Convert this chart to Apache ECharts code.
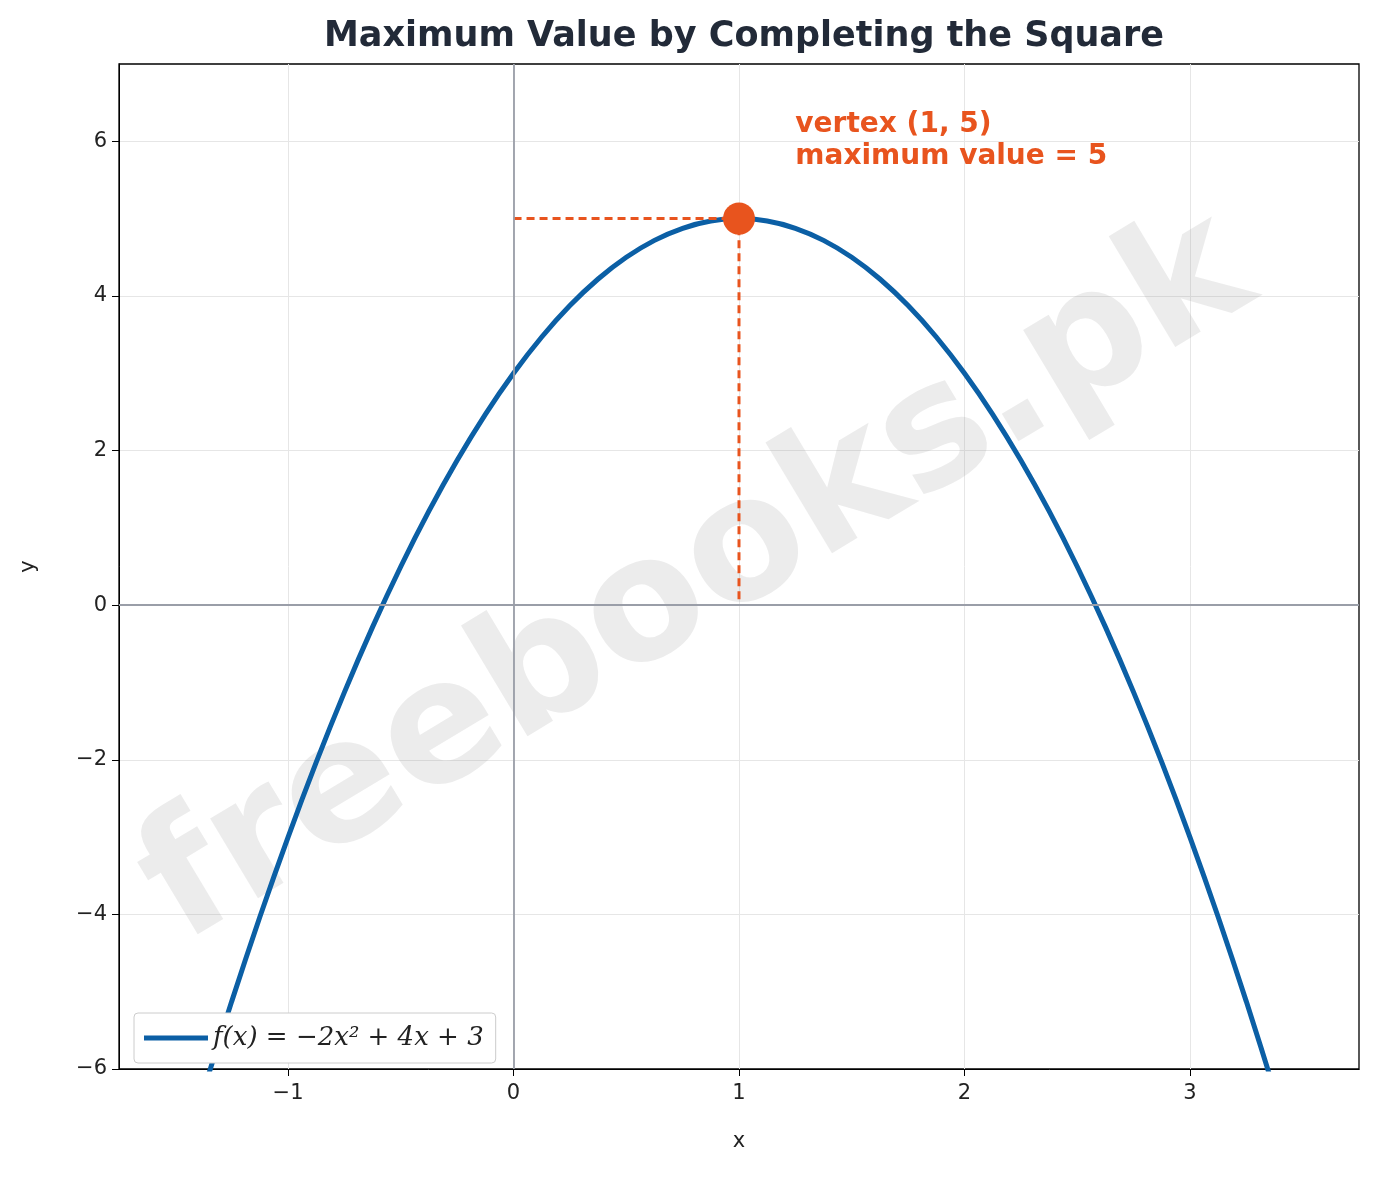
<!DOCTYPE html>
<html><head><meta charset="utf-8">
<script src="https://cdn.jsdelivr.net/npm/echarts@6/dist/echarts.min.js"></script>
<style>html,body{margin:0;padding:0;background:#fff}#c{width:1379px;height:1177px}</style>
</head><body><div id="c"></div>
<script>
const curveX = [-1.5,-1.375,-1.25,-1.125,-1,-0.875,-0.75,-0.625,-0.5,-0.375,-0.25,-0.125,0,0.125,0.25,0.375,0.5,0.625,0.75,0.875,1,1.125,1.25,1.375,1.5,1.625,1.75,1.875,2,2.125,2.25,2.375,2.5,2.625,2.75,2.875,3,3.125,3.25,3.375,3.5];
const curveY = [-7.5,-6.28125,-5.125,-4.03125,-3,-2.03125,-1.125,-0.28125,0.5,1.21875,1.875,2.46875,3,3.46875,3.875,4.21875,4.5,4.71875,4.875,4.96875,5,4.96875,4.875,4.71875,4.5,4.21875,3.875,3.46875,3,2.46875,1.875,1.21875,0.5,-0.28125,-1.125,-2.03125,-3,-4.03125,-5.125,-6.28125,-7.5];
const vertex = [1, 5];
const xTicks = [-1,0,1,2,3];
const yTicks = [-6,-4,-2,0,2,4,6];
const fmt = v => String(v).replace('-', '\u2212');
const chart = echarts.init(document.getElementById('c'));
const font = 'DejaVu Sans';
chart.setOption({
  animation:false,
  title:{text:'Maximum Value by Completing the Square',left:739,textAlign:'center',top:14,textStyle:{fontFamily:font,fontSize:35,fontWeight:'bold',color:'#222a38'}},
  grid:{left:119,right:20,top:64,bottom:108,show:true,borderColor:'#000',borderWidth:1.3,backgroundColor:'transparent'},
  xAxis:{type:'value',min:-1.75,max:3.75,name:'x',nameLocation:'middle',nameGap:62,
    nameTextStyle:{fontFamily:font,fontSize:21,color:'#222'},
    axisLine:{onZero:false,lineStyle:{color:'#000'}},
    axisTick:{show:true,length:7,lineStyle:{color:'#000'},customValues:xTicks},
    axisLabel:{fontFamily:font,fontSize:21,color:'#222',margin:14,customValues:xTicks,formatter:v=>fmt(v)},
    splitLine:{show:true,lineStyle:{color:'#e6e6e6'}}},
  yAxis:{type:'value',min:-6,max:7,name:'y',nameLocation:'middle',nameGap:80,
    nameTextStyle:{fontFamily:font,fontSize:21,color:'#222'},
    axisLine:{show:true,onZero:false,lineStyle:{color:'#000'}},
    axisTick:{show:true,length:7,lineStyle:{color:'#000'},customValues:yTicks},
    axisLabel:{fontFamily:font,fontSize:21,color:'#222',margin:12,customValues:yTicks,formatter:v=>fmt(v)},
    splitLine:{show:true,lineStyle:{color:'#e6e6e6'}}},
  legend:{left:134,bottom:114,orient:'vertical',itemWidth:64,itemHeight:5,itemGap:10,padding:[12,12,12,10],
    backgroundColor:'#fff',borderColor:'#ccc',borderWidth:1,borderRadius:4,
    textStyle:{fontFamily:'DejaVu Serif',fontSize:26,fontStyle:'italic',color:'#222'},
    data:[{name:'f(x) = \u22122x\u00b2 + 4x + 3',icon:'rect'}]},
  series:[
    {type:'line',name:'f(x) = \u22122x\u00b2 + 4x + 3',data:curveX.map((x,i)=>[x,curveY[i]]),smooth:0.3,showSymbol:false,
      lineStyle:{width:5,color:'#0b5fa5'},itemStyle:{color:'#0b5fa5'},clip:true,z:3,
      markLine:{silent:true,symbol:'none',label:{show:false},lineStyle:{color:'#9a9ea8',width:1.8,type:'solid'},
        data:[{xAxis:0},{yAxis:0}]}},
    {type:'line',data:[[0,vertex[1]],vertex,[vertex[0],0]],showSymbol:false,
      lineStyle:{width:3,type:[8,5],color:'#e8541e'},z:4},
    {type:'scatter',data:[vertex],symbolSize:32,itemStyle:{color:'#e8541e',opacity:1},z:5}
  ]
});
const p = chart.convertToPixel({gridIndex:0},[1.25,6.2]);
const w = chart.convertToPixel({gridIndex:0},[0.82,0.3]);
chart.setOption({graphic:[
  {type:'text',left:p[0],top:p[1]-17,z:10,style:{text:'vertex (1, 5)\nmaximum value = 5',fontFamily:font,fontSize:28,fontWeight:'bold',fill:'#e8541e',lineHeight:32}},
  {type:'text',x:w[0],y:w[1],rotation:Math.PI*31/180,z:1,silent:true,
    style:{text:'freebooks.pk',fontFamily:font,fontSize:170,fontWeight:'bold',fill:'rgba(150,150,150,0.18)',align:'center',verticalAlign:'middle'}}
]});
</script></body></html>
